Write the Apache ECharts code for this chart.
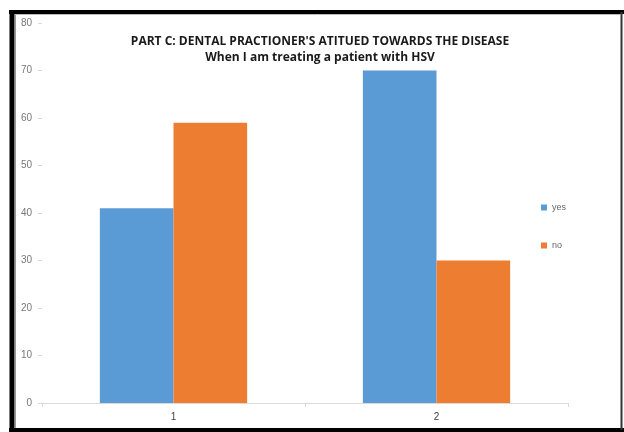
<!DOCTYPE html>
<html>
<head>
<meta charset="utf-8">
<script src="https://cdn.jsdelivr.net/npm/echarts@6/dist/echarts.min.js"></script>
<style>
  html, body { margin: 0; padding: 0; background: #fff; }
  #chart { width: 624px; height: 432px; }
</style>
</head>
<body>
<div id="chart"></div>
<script>
// Survey responses (percent) per question group
const categories = ['1', '2'];
const yesValues = [41, 70];
const noValues = [59, 30];
const seriesNames = ['yes', 'no'];
const yTicks = { min: 0, max: 80, interval: 10 };

const chart = echarts.init(document.getElementById('chart'));

chart.setOption({
  backgroundColor: '#ffffff',
  animation: false,
  title: {
    text: "PART C: DENTAL PRACTIONER'S ATITUED TOWARDS THE DISEASE\nWhen I am treating a patient with HSV",
    left: 315,
    textAlign: 'center',
    top: 29,
    textStyle: {
      fontFamily: 'Open Sans',
      fontWeight: 'bold',
      fontSize: 12,
      lineHeight: 16,
      color: '#1a1a1a'
    }
  },
  legend: {
    orient: 'vertical',
    left: 536,
    top: 198,
    itemWidth: 6,
    itemHeight: 6,
    itemGap: 29,
    icon: 'rect',
    textStyle: { fontFamily: 'Liberation Sans', fontSize: 9, color: '#666' },
    data: seriesNames
  },
  grid: { left: 42, right: 56, top: 23, bottom: 29 },
  xAxis: {
    type: 'category',
    data: categories,
    axisLine: { lineStyle: { color: '#d9d9d9' } },
    axisTick: { show: true, length: 4, lineStyle: { color: '#d9d9d9' } },
    axisLabel: { fontFamily: 'Liberation Sans', fontSize: 10, color: '#444', margin: 9 }
  },
  yAxis: {
    type: 'value',
    min: yTicks.min,
    max: yTicks.max,
    interval: yTicks.interval,
    axisLine: { show: false },
    axisTick: { show: true, length: 4, lineStyle: { color: '#d9d9d9' } },
    splitLine: { show: false },
    axisLabel: { fontFamily: 'Liberation Sans', fontSize: 10, color: '#777', margin: 10 }
  },
  series: [
    {
      name: seriesNames[0],
      type: 'bar',
      data: yesValues,
      barGap: '0%',
      barCategoryGap: '44%',
      itemStyle: { color: '#5B9BD5' }
    },
    {
      name: seriesNames[1],
      type: 'bar',
      data: noValues,
      barGap: '0%',
      barCategoryGap: '44%',
      itemStyle: { color: '#ED7D31' }
    }
  ],
  graphic: [
    // outer frame
    { type: 'line', shape: { x1: 12, y1: 10, x2: 12, y2: 432 }, style: { stroke: '#000', lineWidth: 5 } },
    { type: 'line', shape: { x1: 9, y1: 12, x2: 624, y2: 12 }, style: { stroke: '#000', lineWidth: 4 } },
    { type: 'line', shape: { x1: 9, y1: 430, x2: 624, y2: 430 }, style: { stroke: '#000', lineWidth: 4 } },
    { type: 'line', shape: { x1: 621.5, y1: 12, x2: 621.5, y2: 430 }, style: { stroke: '#333', lineWidth: 2 } },
    // inner grey edge
    { type: 'line', shape: { x1: 15.5, y1: 14, x2: 15.5, y2: 428 }, style: { stroke: '#999', lineWidth: 1 } },
    { type: 'line', shape: { x1: 15, y1: 14.5, x2: 620, y2: 14.5 }, style: { stroke: '#bbb', lineWidth: 1 } }
  ]
});
</script>
</body>
</html>
